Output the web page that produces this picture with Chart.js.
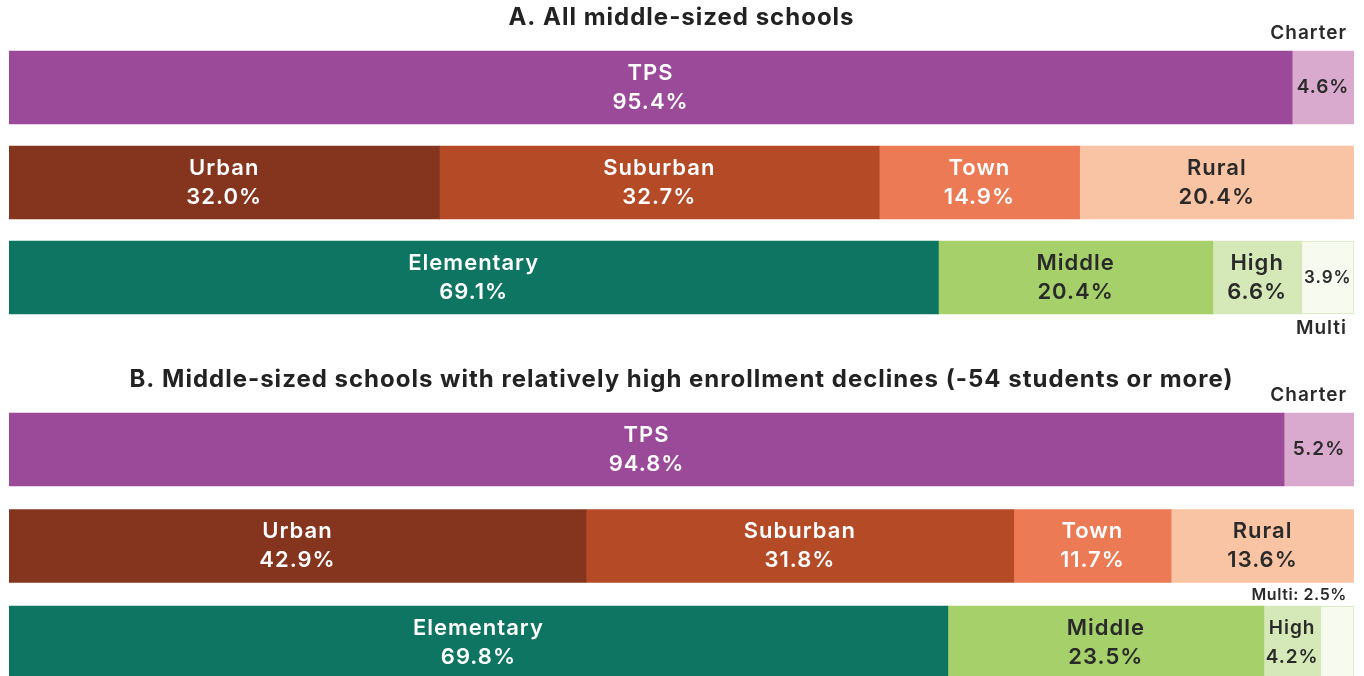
<!DOCTYPE html>
<html>
<head>
<meta charset="utf-8">
<script src="https://cdn.jsdelivr.net/npm/chart.js@4"></script>
<style>
  html, body { margin: 0; padding: 0; background: #fff; overflow: hidden; width: 1364px; height: 676px; }
  .wrap { position: absolute; left: 0; width: 1364px; }
  #wrapA { top: 0; height: 345px; }
  #wrapB { top: 340px; height: 370px; }
</style>
</head>
<body>
<div class="wrap" id="wrapA"><canvas id="chartA"></canvas></div>
<div class="wrap" id="wrapB"><canvas id="chartB"></canvas></div>
<script>
// Rows of each panel and the segment names in each row
const rows = ['Sector', 'Locale', 'Level'];
const sectorNames = ['TPS', 'Charter'];
const localeNames = ['Urban', 'Suburban', 'Town', 'Rural'];
const levelNames = ['Elementary', 'Middle', 'High', 'Multi'];

// Panel A: all middle-sized schools (percent)
const sectorA = [95.4, 4.6];
const localeA = [32.0, 32.7, 14.9, 20.4];
const levelA = [69.1, 20.4, 6.6, 3.9];

// Panel B: middle-sized schools with relatively high enrollment declines (percent)
const sectorB = [94.8, 5.2];
const localeB = [42.9, 31.8, 11.7, 13.6];
const levelB = [69.8, 23.5, 4.2, 2.5];

const titleA = 'A. All middle-sized schools';
const titleB = 'B. Middle-sized schools with relatively high enrollment declines (-54 students or more)';

const FONT = 'Inter, "DejaVu Sans", sans-serif';
Chart.defaults.font.family = FONT;

const segmentStyle = {
  TPS:        { fill: '#9B4A9A', text: '#ffffff' },
  Charter:    { fill: '#D9A9CE', text: '#2a2a2a' },
  Urban:      { fill: '#85341D', text: '#ffffff' },
  Suburban:   { fill: '#B54A27', text: '#ffffff' },
  Town:       { fill: '#EB7A55', text: '#ffffff' },
  Rural:      { fill: '#F9C4A4', text: '#2a2a2a' },
  Elementary: { fill: '#0D7562', text: '#ffffff' },
  Middle:     { fill: '#A5D06A', text: '#2a2a2a' },
  High:       { fill: '#D4E8B8', text: '#2a2a2a' },
  Multi:      { fill: '#F7FAEF', text: '#2a2a2a', border: '#D4E8B8' }
};

// One dataset per segment; each dataset fills only its own row
function buildDatasets(groups) {
  const out = [];
  groups.forEach(([names, values], row) => {
    names.forEach((name, j) => {
      const data = rows.map((_, r) => (r === row ? values[j] : null));
      const st = segmentStyle[name];
      out.push({
        label: name,
        row: row,
        data: data,
        backgroundColor: st.fill,
        borderColor: st.border || st.fill,
        borderWidth: st.border ? 1 : 0,
        borderSkipped: false,
        textColor: st.text
      });
    });
  });
  return out;
}

function fitFont(ctx, lines, maxSize, room, weight) {
  let size = maxSize;
  ctx.font = weight + ' ' + size + 'px ' + FONT;
  const w = Math.max(...lines.map(t => ctx.measureText(t).width));
  if (w > room) size = Math.floor(size * room / w);
  return size;
}

// Slightly open tracking for every text drawn on the canvas
const tracking = {
  id: 'tracking',
  beforeDraw(chart) { chart.ctx.letterSpacing = '1px'; },
  afterDraw(chart) { chart.ctx.letterSpacing = '0px'; }
};

// Writes names and shares on (or next to) each segment
const segmentLabels = {
  id: 'segmentLabels',
  afterDatasetsDraw(chart, args, opts) {
    const ctx = chart.ctx;
    const right = chart.chartArea.right - 7;
    chart.data.datasets.forEach((ds, i) => {
      const el = chart.getDatasetMeta(i).data[ds.row];
      if (!el) return;
      const p = el.getProps(['x', 'base', 'y', 'height'], true);
      const cx = (p.x + p.base) / 2;
      const segW = Math.abs(p.x - p.base);
      const pct = ds.data[ds.row].toFixed(1) + '%';
      const mode = opts.placement[ds.label] || 'inside';
      ctx.save();
      ctx.letterSpacing = '1px';
      ctx.textAlign = 'center';
      ctx.textBaseline = 'middle';
      ctx.fillStyle = ds.textColor;
      if (mode === 'inside') {
        const size = fitFont(ctx, [ds.label, pct], 22, segW - 3, '600');
        ctx.font = '600 ' + size + 'px ' + FONT;
        ctx.fillText(ds.label, cx, p.y - 14.5);
        ctx.fillText(pct, cx, p.y + 14.5);
      } else if (mode === 'nameAbove' || mode === 'nameBelow') {
        const size = fitFont(ctx, [pct], 19, segW - 5, '600');
        ctx.font = '600 ' + size + 'px ' + FONT;
        ctx.fillText(pct, cx, p.y);
        ctx.fillStyle = '#2a2a2a';
        ctx.font = '600 19px ' + FONT;
        ctx.textAlign = 'right';
        const yy = mode === 'nameAbove' ? p.y - p.height / 2 - 18 : p.y + p.height / 2 + 14;
        ctx.fillText(ds.label, right, yy);
      } else if (mode === 'allAbove') {
        ctx.fillStyle = '#2a2a2a';
        ctx.letterSpacing = '0.6px';
        ctx.font = '600 16px ' + FONT;
        ctx.textAlign = 'right';
        ctx.fillText(ds.label + ': ' + pct, right, p.y - p.height / 2 - 11);
      }
      ctx.restore();
    });
  }
};

function makeChart(id, title, groups, placement, titlePad, bottomPad) {
  return new Chart(document.getElementById(id), {
    type: 'bar',
    data: { labels: rows, datasets: buildDatasets(groups) },
    options: {
      indexAxis: 'y',
      responsive: true,
      maintainAspectRatio: false,
      animation: false,
      barThickness: 73,
      layout: { padding: { left: 9, right: 10, top: 0, bottom: bottomPad } },
      scales: {
        x: { stacked: true, min: 0, max: 100, display: false },
        y: { stacked: true, display: false }
      },
      plugins: {
        legend: { display: false },
        tooltip: { enabled: false },
        title: {
          display: true,
          text: title,
          color: '#222222',
          font: { size: 24, weight: '700', family: FONT, lineHeight: 1.1 },
          padding: titlePad
        },
        segmentLabels: { placement: placement }
      }
    },
    plugins: [tracking, segmentLabels]
  });
}

makeChart('chartA', titleA,
  [[sectorNames, sectorA], [localeNames, localeA], [levelNames, levelA]],
  { Charter: 'nameAbove', Multi: 'nameBelow' },
  { top: 5, bottom: 8.6 }, 20);

makeChart('chartB', titleB,
  [[sectorNames, sectorB], [localeNames, localeB], [levelNames, levelB]],
  { Charter: 'nameAbove', Multi: 'allAbove' },
  { top: 26.8, bottom: 8.05 }, 19.25);
</script>
</body>
</html>
